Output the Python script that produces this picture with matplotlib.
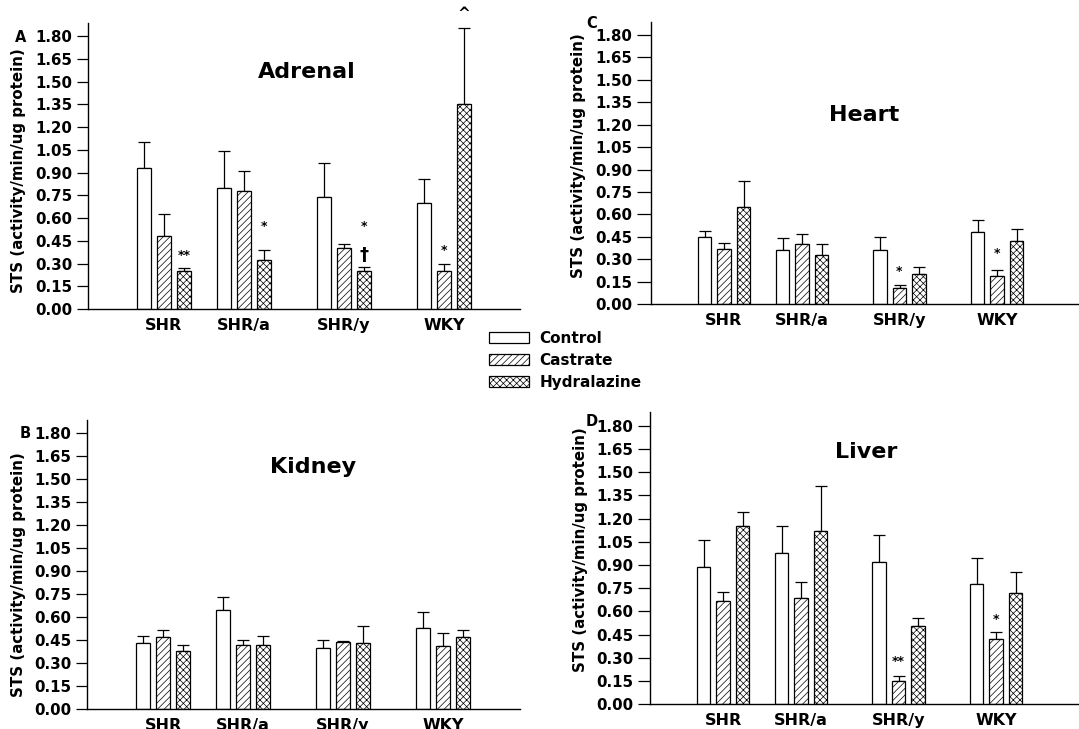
import matplotlib
matplotlib.use('Agg')
import matplotlib.pyplot as plt
import numpy as np
from matplotlib.patches import Patch

plt.rcParams['font.family'] = ['DejaVu Sans']
plt.rcParams['font.weight'] = 'bold'
plt.rcParams['hatch.linewidth'] = 0.5

# ---------------- data ----------------
groups = ['SHR', 'SHR/a', 'SHR/y', 'WKY']
series = ['Control', 'Castrate', 'Hydralazine']
yticks = [0.00, 0.15, 0.30, 0.45, 0.60, 0.75, 0.90, 1.05, 1.20, 1.35, 1.50, 1.65, 1.80]
ylabel = 'STS (activity/min/ug protein)'

adrenal_control = [0.93, 0.80, 0.74, 0.70]
adrenal_control_sem = [0.17, 0.24, 0.22, 0.155]
adrenal_castrate = [0.48, 0.78, 0.40, 0.25]
adrenal_castrate_sem = [0.15, 0.13, 0.03, 0.05]
adrenal_hydral = [0.25, 0.32, 0.25, 1.35]
adrenal_hydral_sem = [0.02, 0.07, 0.03, 0.505]

heart_control = [0.45, 0.36, 0.365, 0.48]
heart_control_sem = [0.04, 0.08, 0.085, 0.08]
heart_castrate = [0.37, 0.40, 0.11, 0.19]
heart_castrate_sem = [0.04, 0.07, 0.02, 0.04]
heart_hydral = [0.65, 0.33, 0.20, 0.42]
heart_hydral_sem = [0.17, 0.07, 0.05, 0.08]

kidney_control = [0.43, 0.65, 0.40, 0.53]
kidney_control_sem = [0.045, 0.085, 0.05, 0.105]
kidney_castrate = [0.47, 0.42, 0.44, 0.415]
kidney_castrate_sem = [0.05, 0.035, 0.008, 0.08]
kidney_hydral = [0.38, 0.42, 0.435, 0.47]
kidney_hydral_sem = [0.04, 0.055, 0.11, 0.045]

liver_control = [0.89, 0.98, 0.92, 0.78]
liver_control_sem = [0.17, 0.175, 0.175, 0.165]
liver_castrate = [0.67, 0.69, 0.15, 0.42]
liver_castrate_sem = [0.055, 0.10, 0.035, 0.05]
liver_hydral = [1.15, 1.12, 0.505, 0.72]
liver_hydral_sem = [0.09, 0.29, 0.055, 0.135]

# significance marks: (group index, series index, text, y value of mark centre)
adrenal_marks = [(0, 2, '**', 0.356), (1, 2, '*', 0.543), (2, 2, '*', 0.547),
                 (2, 2, '\u2020', 0.356), (3, 1, '*', 0.389), (3, 2, '^', 1.95)]
heart_marks = [(2, 1, '*', 0.218), (3, 1, '*', 0.340)]
kidney_marks = []
liver_marks = [(2, 1, '**', 0.275), (3, 1, '*', 0.551)]

# ---------------- layout ----------------
W, H = 1079, 729
fig = plt.figure(figsize=(W / 100, H / 100), dpi=100)
fig.patch.set_facecolor('white')

group_pos = np.array([0.0, 1.0, 2.25, 3.5])
bar_w = 0.17
step = 0.25
YTOP = 1.887
hatches = ['', '/////', 'xxxxx']

panels = [
    dict(letter='A', title='Adrenal', l=88, r=520, t=23, b=309, unit=80, c0=164, tick=7.9,
         means=[adrenal_control, adrenal_castrate, adrenal_hydral],
         sems=[adrenal_control_sem, adrenal_castrate_sem, adrenal_hydral_sem],
         marks=adrenal_marks, title_xy=(307, 78), letter_xy=(21, 37), ylab_xy=(19, 171)),
    dict(letter='C', title='Heart', l=651, r=1079, t=21.7, b=304.3, unit=78, c0=724, tick=10.0,
         means=[heart_control, heart_castrate, heart_hydral],
         sems=[heart_control_sem, heart_castrate_sem, heart_hydral_sem],
         marks=heart_marks, title_xy=(864, 121), letter_xy=(592, 24), ylab_xy=(579, 156)),
    dict(letter='B', title='Kidney', l=87, r=520, t=420, b=709.3, unit=80, c0=163, tick=7.7,
         means=[kidney_control, kidney_castrate, kidney_hydral],
         sems=[kidney_control_sem, kidney_castrate_sem, kidney_hydral_sem],
         marks=kidney_marks, title_xy=(313, 473), letter_xy=(25, 434), ylab_xy=(19, 575)),
    dict(letter='D', title='Liver', l=650, r=1079, t=412.3, b=704.3, unit=78, c0=723, tick=8.6,
         means=[liver_control, liver_castrate, liver_hydral],
         sems=[liver_control_sem, liver_castrate_sem, liver_hydral_sem],
         marks=liver_marks, title_xy=(866, 458), letter_xy=(592, 422), ylab_xy=(580, 550)),
]

for p in panels:
    rect = [p['l'] / W, 1 - p['b'] / H, (p['r'] - p['l']) / W, (p['b'] - p['t']) / H]
    ax = fig.add_axes(rect)
    ax.set_facecolor('none')
    ax.set_xlim((p['l'] - p['c0']) / p['unit'], (p['r'] - p['c0']) / p['unit'])
    ax.set_ylim(0, YTOP)
    for k in range(3):
        xs = group_pos + (k - 1) * step
        vals = np.array(p['means'][k])
        errs = np.array(p['sems'][k])
        ax.errorbar(xs, vals, yerr=[np.zeros_like(errs), errs], fmt='none',
                    ecolor='black', elinewidth=0.9, capsize=4.5, capthick=0.9, zorder=1)
        ax.bar(xs, vals, width=bar_w, color='white', edgecolor='black',
               linewidth=0.9, hatch=hatches[k], zorder=2)
    for gi, si, txt, yv in p['marks']:
        xm = group_pos[gi] + (si - 1) * step
        fs = {'\u2020': 13, '^': 11}.get(txt, 9)
        ax.text(xm, yv, txt, ha='center', va='center', fontsize=fs,
                fontweight='bold', clip_on=False, zorder=3)
    ax.set_yticks(yticks)
    ax.set_yticklabels([f'{v:.2f}' for v in yticks])
    ax.set_xticks(group_pos)
    ax.set_xticklabels(groups)
    ax.tick_params(axis='y', length=p['tick'], width=0.9, pad=3.6, labelsize=10.8, direction='out')
    ax.tick_params(axis='x', length=0, pad=6.5, labelsize=11.5)
    for s in ['top', 'right']:
        ax.spines[s].set_visible(False)
    for s in ['left', 'bottom']:
        ax.spines[s].set_linewidth(1.0)
    fig.text(p['title_xy'][0] / W, 1 - p['title_xy'][1] / H, p['title'],
             ha='center', va='baseline', fontsize=16, fontweight='bold')
    fig.text(p['letter_xy'][0] / W, 1 - p['letter_xy'][1] / H, p['letter'],
             ha='center', va='center', fontsize=10.5, fontweight='bold')
    fig.text(p['ylab_xy'][0] / W, 1 - p['ylab_xy'][1] / H, ylabel, rotation=90,
             ha='center', va='center', fontsize=10.8, fontweight='bold')

handles = [Patch(facecolor='white', edgecolor='black', linewidth=0.9, hatch=h) for h in hatches]
fig.legend(handles, series, loc='upper left', bbox_to_anchor=(489 / W, 1 - 331 / H),
           frameon=False, borderpad=0, borderaxespad=0, handlelength=2.6,
           handleheight=0.75, handletextpad=0.7, labelspacing=0.45,
           prop=dict(size=11, weight='bold'))

fig.savefig('out.png', dpi=100)
